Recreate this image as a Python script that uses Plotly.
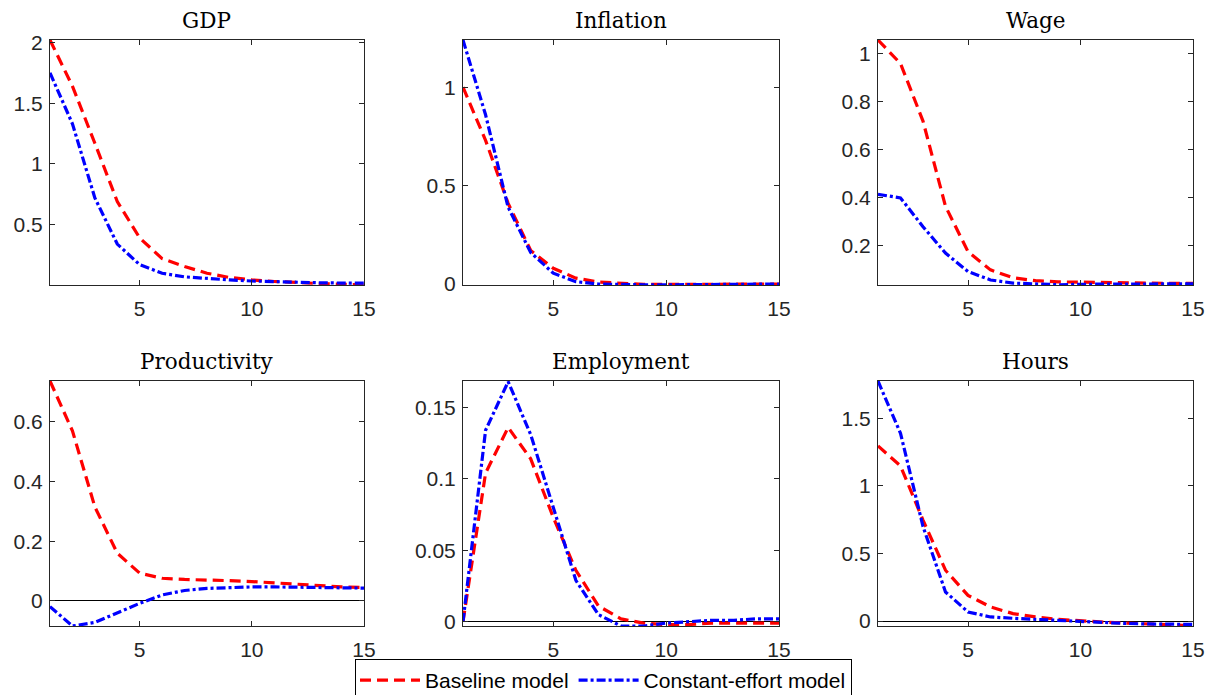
import plotly.graph_objects as go

# ---------------- data ----------------
periods = list(range(1, 16))
titles = ["GDP", "Inflation", "Wage", "Productivity", "Employment", "Hours"]
series_names = ["Baseline model", "Constant-effort model"]

gdp_base = [2.02, 1.64, 1.17, 0.69, 0.39, 0.22, 0.155, 0.10, 0.065, 0.045, 0.032, 0.022, 0.015, 0.009, 0.003]
gdp_const = [1.75, 1.33, 0.72, 0.34, 0.17, 0.10, 0.07, 0.055, 0.045, 0.036, 0.030, 0.025, 0.021, 0.019, 0.018]

infl_base = [1.00, 0.73, 0.41, 0.17, 0.08, 0.03, 0.01, 0.002, -0.002, -0.002, -0.002, -0.001, 0.0, 0.0, 0.0]
infl_const = [1.24, 0.86, 0.39, 0.16, 0.055, 0.012, 0.0, -0.003, -0.004, -0.004, -0.003, -0.002, -0.001, -0.001, 0.0]

wage_base = [1.058, 0.96, 0.72, 0.365, 0.176, 0.10, 0.067, 0.055, 0.05, 0.048, 0.046, 0.045, 0.045, 0.044, 0.044]
wage_const = [0.415, 0.40, 0.28, 0.17, 0.093, 0.058, 0.045, 0.040, 0.038, 0.040, 0.041, 0.042, 0.042, 0.042, 0.042]

prod_base = [0.737, 0.57, 0.315, 0.16, 0.093, 0.076, 0.072, 0.071, 0.068, 0.065, 0.060, 0.055, 0.050, 0.047, 0.045]
prod_const = [-0.019, -0.084, -0.072, -0.041, -0.008, 0.020, 0.035, 0.042, 0.045, 0.047, 0.047, 0.046, 0.045, 0.044, 0.043]

empl_base = [0.0, 0.104, 0.136, 0.114, 0.073, 0.036, 0.011, 0.002, -0.001, -0.002, -0.002, -0.001, -0.001, -0.001, -0.001]
empl_const = [0.0, 0.134, 0.168, 0.131, 0.080, 0.029, 0.005, -0.003, -0.003, -0.001, 0.0, 0.001, 0.001, 0.002, 0.002]

hours_base = [1.296, 1.148, 0.747, 0.376, 0.19, 0.104, 0.055, 0.030, 0.012, 0.0, -0.008, -0.015, -0.022, -0.030, -0.035]
hours_const = [1.777, 1.39, 0.70, 0.215, 0.067, 0.030, 0.020, 0.012, 0.005, -0.005, -0.012, -0.018, -0.022, -0.025, -0.025]

y_ranges = [[0.003, 2.02], [-0.005, 1.24], [0.037, 1.058],
            [-0.084, 0.737], [-0.003, 0.1685], [-0.037, 1.777]]
y_ticks = [[0.5, 1, 1.5, 2], [0, 0.5, 1], [0.2, 0.4, 0.6, 0.8, 1],
           [0, 0.2, 0.4, 0.6], [0, 0.05, 0.1, 0.15], [0, 0.5, 1, 1.5]]
y_ticktext = [["0.5", "1", "1.5", "2"], ["0", "0.5", "1"], ["0.2", "0.4", "0.6", "0.8", "1"],
              ["0", "0.2", "0.4", "0.6"], ["0", "0.05", "0.1", "0.15"], ["0", "0.5", "1", "1.5"]]
x_ticks = [5, 10, 15]

base_all = [gdp_base, infl_base, wage_base, prod_base, empl_base, hours_base]
const_all = [gdp_const, infl_const, wage_const, prod_const, empl_const, hours_const]

# ---------------- layout geometry (figure pixels) ----------------
W, H = 1208, 695
col_px = [(50, 364), (463, 779), (878, 1193)]
row_px = [(40, 285), (381, 626)]

RED = "#FF0000"
BLUE = "#0000FF"
AX = "#262626"

fig = go.Figure()
annotations = []
layout_axes = {}

for i in range(6):
    r, c = divmod(i, 3)
    n = i + 1
    xa = "x" if n == 1 else f"x{n}"
    ya = "y" if n == 1 else f"y{n}"
    xkey = "xaxis" if n == 1 else f"xaxis{n}"
    ykey = "yaxis" if n == 1 else f"yaxis{n}"
    x0, x1 = col_px[c]
    y0, y1 = row_px[r]
    xdom = [x0 / W, x1 / W]
    ydom = [1 - y1 / H, 1 - y0 / H]

    fig.add_trace(go.Scatter(
        x=periods, y=base_all[i], mode="lines", name=series_names[0],
        line=dict(color=RED, width=3.2, dash="11px,6px"),
        xaxis=xa, yaxis=ya, showlegend=(i == 0), legendgroup="b"))
    fig.add_trace(go.Scatter(
        x=periods, y=const_all[i], mode="lines", name=series_names[1],
        line=dict(color=BLUE, width=3.2, dash="9px,3px,3px,3px"),
        xaxis=xa, yaxis=ya, showlegend=(i == 0), legendgroup="c"))

    common = dict(showline=True, linecolor=AX, linewidth=1, mirror="ticks",
                  ticks="inside", ticklen=5, tickcolor=AX, showgrid=False,
                  tickfont=dict(family="Liberation Sans, Arial", size=21, color=AX))
    layout_axes[xkey] = dict(domain=xdom, anchor=ya, range=[1, 15],
                             tickvals=x_ticks, ticktext=[str(t) for t in x_ticks],
                             zeroline=False, ticklabelstandoff=5,
                             ticklabeloverflow="allow", **common)
    layout_axes[ykey] = dict(domain=ydom, anchor=xa, range=y_ranges[i],
                             tickvals=y_ticks[i], ticktext=y_ticktext[i],
                             zeroline=True, zerolinecolor="#000000", zerolinewidth=1,
                             ticklabelstandoff=2, **common)
    annotations.append(dict(
        text=titles[i], xref="paper", yref="paper",
        x=(xdom[0] + xdom[1]) / 2, y=ydom[1], xanchor="center", yanchor="bottom",
        yshift=5, showarrow=False,
        font=dict(family="DejaVu Serif", size=21.5, color="#000000")))

fig.update_layout(
    width=W, height=H,
    margin=dict(l=0, r=0, t=0, b=0, autoexpand=False),
    plot_bgcolor="white", paper_bgcolor="white",
    annotations=annotations,
    legend=dict(orientation="h", x=603.5 / W, xanchor="center",
                y=1 - 659 / H, yanchor="top",
                bordercolor="#000000", borderwidth=1, bgcolor="white",
                font=dict(family="Liberation Sans, Arial", size=21, color="#000000"),
                itemwidth=60, tracegroupgap=0),
    **layout_axes,
)

page_fix = ("document.documentElement.style.overflow='hidden';"
            "document.body.style.margin='0';"
            "document.body.style.overflow='hidden';")
fig.write_html("out.html", post_script=page_fix, config={"displayModeBar": False})
